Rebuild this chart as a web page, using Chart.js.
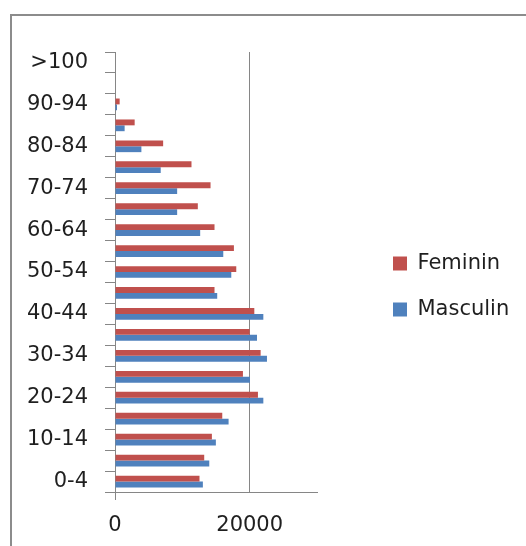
<!DOCTYPE html>
<html>
<head>
<meta charset="utf-8">
<script src="https://cdn.jsdelivr.net/npm/chart.js@4/dist/chart.umd.min.js"></script>
<style>
  html, body { margin: 0; padding: 0; background: #fff; }
  body { width: 526px; height: 546px; position: relative; overflow: hidden; }
  #frame { position: absolute; left: 10px; top: 14px; width: 600px; height: 600px;
           border-left: 2px solid #8c8c8c; border-top: 2px solid #8c8c8c; }
  #wrap { position: absolute; left: 0; top: 0; width: 526px; height: 546px; }
</style>
</head>
<body>
<div id="frame"></div>
<div id="wrap"><canvas id="c" width="526" height="546"></canvas></div>
<script>
// Age groups (bottom to top) and population per sex
const ageGroups = ['0-4', '5-9', '10-14', '15-19', '20-24', '25-29', '30-34', '35-39', '40-44',
  '45-49', '50-54', '55-59', '60-64', '65-69', '70-74', '75-79', '80-84', '85-89', '90-94',
  '95-99', '>100'];
const feminin = [12550, 13250, 14390, 15930, 21230, 19000, 21630, 20000, 20690, 14780,
  18010, 17660, 14780, 12300, 14190, 11360, 7150, 2920, 690, 0, 0];
const masculin = [13050, 14000, 14980, 16870, 22030, 20050, 22570, 21090, 22030, 15180,
  17270, 16080, 12650, 9230, 9230, 6790, 3920, 1430, 300, 0, 0];
const seriesNames = ['Feminin', 'Masculin'];
const xTickValues = [0, 20000];
const xMax = 30000;

const axisGray = '#868686';
const textColor = '#1f1f1f';
const font = { family: 'DejaVu Sans', size: 21 };

// Fixed legend width and placement to the right of the plot
const legendPlacement = {
  id: 'legendPlacement',
  afterInit(chart) {
    const lg = chart.legend;
    const fit = lg.fit;
    lg.fit = function () {
      fit.call(this);
      this.width = 209;
    };
  },
  afterLayout(chart) {
    const lg = chart.legend;
    const w = lg.width, h = lg.height;
    lg.left = 368; lg.right = 368 + w;
    lg.top = 228; lg.bottom = 228 + h;
  }
};

new Chart(document.getElementById('c'), {
  type: 'bar',
  data: {
    labels: ageGroups,
    datasets: [
      { label: seriesNames[0], data: feminin, backgroundColor: '#C0504D', borderWidth: 0 },
      { label: seriesNames[1], data: masculin, backgroundColor: '#4F81BD', borderWidth: 0 }
    ]
  },
  options: {
    indexAxis: 'y',
    responsive: false,
    animation: false,
    events: [],
    categoryPercentage: 0.56,
    barPercentage: 1.0,
    layout: { padding: { top: 52, left: 0, right: 0, bottom: 0 } },
    plugins: {
      legend: {
        position: 'right',
        align: 'start',
        labels: { font, color: textColor, boxWidth: 14, boxHeight: 14, padding: 25 }
      },
      tooltip: { enabled: false }
    },
    scales: {
      y: {
        reverse: true,
        offset: true,
        grid: { offset: true, drawOnChartArea: false, drawTicks: true, tickLength: 10,
                color: axisGray, lineWidth: 1 },
        border: { display: true, color: axisGray, width: 1 },
        ticks: {
          autoSkip: false, font, color: textColor, padding: 17,
          callback: (v, i) => (i % 2 === 0 ? ageGroups[i] : '')
        },
        afterFit: s => { s.width = 115; }
      },
      x: {
        min: 0, max: xMax,
        afterBuildTicks: s => { s.ticks = xTickValues.map(v => ({ value: v })); },
        grid: { drawOnChartArea: true, drawTicks: true, tickLength: 8, color: axisGray,
                tickColor: ctx => (ctx.index === 0 ? axisGray : 'rgba(0,0,0,0)'), lineWidth: 1 },
        border: { display: true, color: axisGray, width: 1 },
        ticks: { font, color: textColor, padding: 13, maxRotation: 0,
                 callback: v => String(v) },
        afterFit: s => { s.height = 54; }
      }
    }
  },
  plugins: [legendPlacement]
});
</script>
</body>
</html>
